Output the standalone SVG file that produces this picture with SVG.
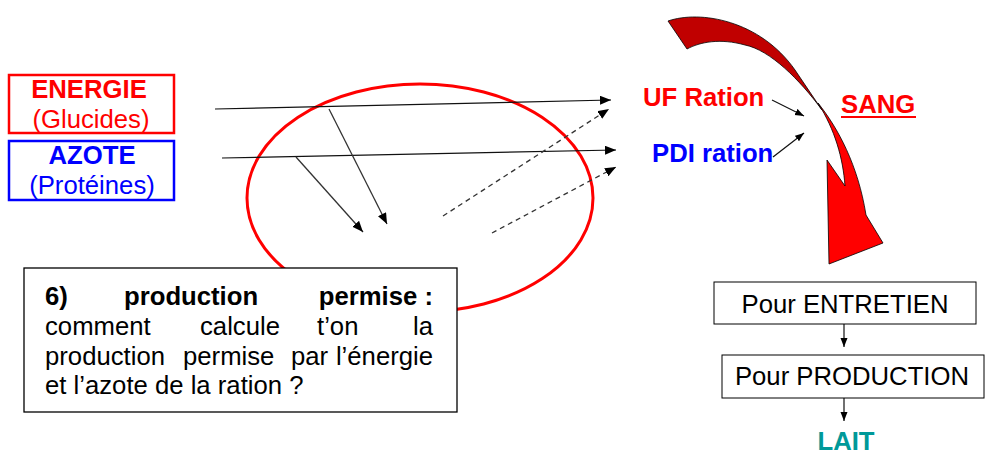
<svg xmlns="http://www.w3.org/2000/svg" width="985" height="462" viewBox="0 0 985 462">
<style>
text{font-family:"Liberation Sans",Arial,sans-serif;font-size:25.7px}
.b{font-weight:bold}
.r{fill:#FF0000}
.bl{fill:#0000FF}
.k{fill:#000}
.ln{stroke:#111;stroke-width:1.2;fill:none}
.dg{stroke:#333;stroke-width:1.3;fill:none}
.ds{stroke:#333;stroke-width:1.3;fill:none;stroke-dasharray:5,4}
.box{fill:#fff;stroke:#000;stroke-width:1.3}
</style>
<defs>
<marker id="ah" markerUnits="userSpaceOnUse" markerWidth="12" markerHeight="10" refX="11" refY="4.5" orient="auto">
<path d="M0,0 L11,4.5 L0,9 Z" fill="#000"/>
</marker>
<marker id="ahs" markerUnits="userSpaceOnUse" markerWidth="10" markerHeight="8" refX="9" refY="3.5" orient="auto">
<path d="M0,0 L9,3.5 L0,7 Z" fill="#000"/>
</marker>
</defs>

<g id="ellipse">
<ellipse cx="420" cy="198" rx="173" ry="114" fill="none" stroke="#FF0000" stroke-width="3"/>
</g>

<g id="energie">
<rect x="9" y="75" width="165" height="58" fill="#fff" stroke="#FF0000" stroke-width="2.5"/>
<text x="89" y="98" text-anchor="middle" class="b r">ENERGIE</text>
<text x="91" y="128" text-anchor="middle" class="r">(Glucides)</text>
</g>

<g id="azote">
<rect x="9" y="141" width="165" height="59" fill="#fff" stroke="#0000FF" stroke-width="2.5"/>
<text x="92" y="164" text-anchor="middle" class="b bl">AZOTE</text>
<text x="92" y="194" text-anchor="middle" class="bl">(Protéines)</text>
</g>

<g id="connectors">
<line x1="215" y1="109" x2="611" y2="100" class="ln" marker-end="url(#ah)"/>
<line x1="222" y1="158" x2="616" y2="150" class="ln" marker-end="url(#ah)"/>
<line x1="329" y1="109" x2="387" y2="224" class="dg" marker-end="url(#ah)"/>
<line x1="296" y1="157" x2="363" y2="232" class="dg" marker-end="url(#ah)"/>
<line x1="443" y1="216" x2="609" y2="109" class="ds" marker-end="url(#ah)"/>
<line x1="492" y1="233" x2="616" y2="167" class="ds" marker-end="url(#ah)"/>
<line x1="772" y1="100" x2="804" y2="116" class="ln" marker-end="url(#ahs)"/>
<line x1="773" y1="157" x2="804" y2="133" class="ln" marker-end="url(#ahs)"/>
<line x1="844" y1="312" x2="844" y2="347" class="ln" marker-end="url(#ahs)"/>
<line x1="844" y1="385" x2="844" y2="421" class="ln" marker-end="url(#ahs)"/>
</g>

<g id="sang-arrow">
<path d="M668,21 C700,10 760,20 795,70 L822,110 C800,80 770,50 745,45 C720,38 700,42 687,49 Z" fill="#C00000" stroke="#000" stroke-width="0.8"/>
<path d="M818,103 C838,128 858,165 866,215 L883,243 L829,264 L827,160 L845,186 C843,158 835,130 818,103 Z" fill="#FF0000" stroke="#000" stroke-width="0.8"/>
</g>

<g id="uf">
<text x="643" y="106" class="b r">UF Ration</text>
</g>
<g id="pdi">
<text x="652" y="162" class="b bl">PDI ration</text>
</g>
<g id="sang">
<text x="841" y="113" class="b r">SANG</text>
<rect x="841" y="116" width="75" height="2" fill="#FF0000"/>
</g>

<g id="question">
<rect x="24" y="268" width="433" height="144" class="box"/>
<text y="305" class="b k"><tspan x="45">6)</tspan><tspan x="124">production</tspan></text>
<text x="433" y="305" text-anchor="end" class="b k">permise :</text>
<text y="335" class="k"><tspan x="45">comment</tspan><tspan x="200">calcule</tspan><tspan x="317">t’on</tspan></text>
<text x="433" y="335" text-anchor="end" class="k">la</text>
<text y="365" class="k"><tspan x="45">production</tspan><tspan x="183">permise</tspan><tspan x="291">par</tspan></text>
<text x="433" y="365" text-anchor="end" class="k">l’énergie</text>
<text x="45" y="394" class="k">et l’azote de la ration ?</text>
</g>

<g id="entretien">
<rect x="714" y="282" width="262" height="42" fill="#fff" stroke="#000" stroke-width="1"/>
<text x="845" y="313" text-anchor="middle" class="k">Pour ENTRETIEN</text>
</g>
<g id="production">
<rect x="722" y="355" width="262" height="43" fill="#fff" stroke="#000" stroke-width="1"/>
<text x="852" y="385" text-anchor="middle" class="k">Pour PRODUCTION</text>
</g>
<g id="lait">
<text x="846" y="450" text-anchor="middle" class="b" fill="#009999">LAIT</text>
</g>
</svg>
